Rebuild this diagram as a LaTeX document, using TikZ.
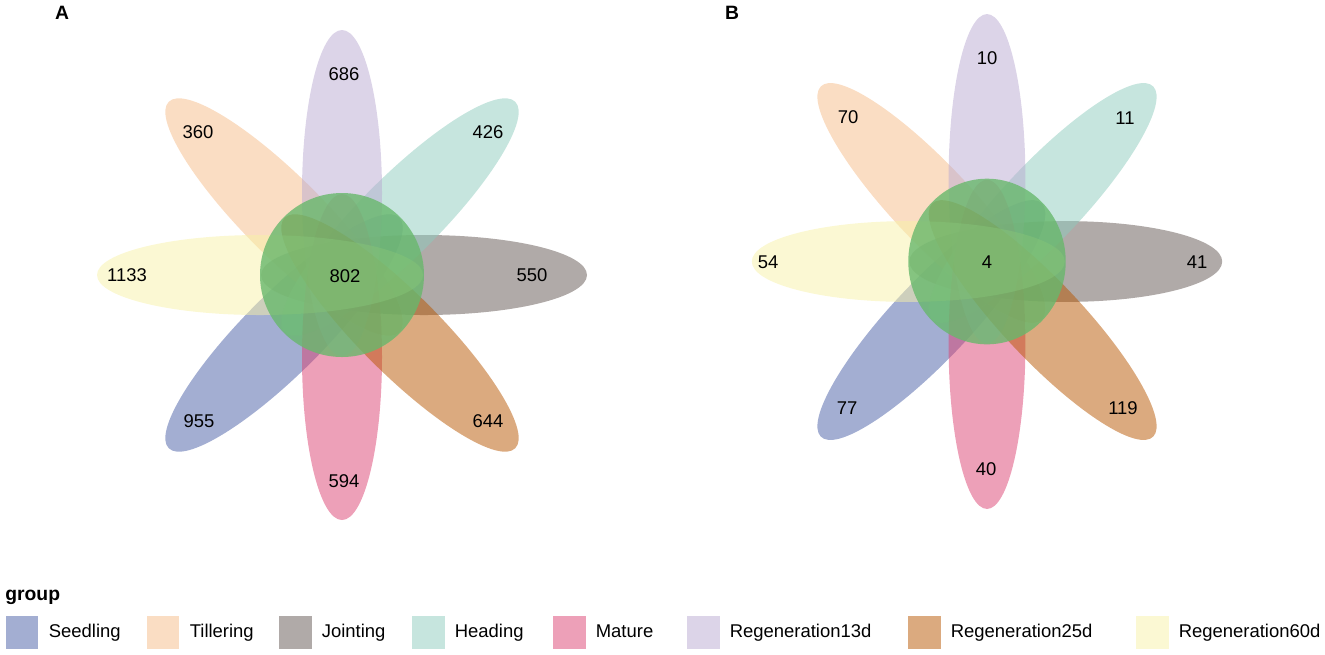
\documentclass[tikz,border=0pt]{standalone}
\usepackage{fontspec}
\setmainfont{Liberation Sans}
\usetikzlibrary{positioning}
% base colours (drawn at half opacity)
\definecolor{cSeed}{RGB}{71,93,165}
\definecolor{cTill}{RGB}{245,187,135}
\definecolor{cJoint}{RGB}{97,85,81}
\definecolor{cHead}{RGB}{141,203,189}
\definecolor{cMat}{RGB}{219,65,113}
\definecolor{cRegA}{RGB}{185,169,209}
\definecolor{cRegB}{RGB}{183,86,0}
\definecolor{cRegC}{RGB}{247,241,167}
\definecolor{cCore}{RGB}{104,184,108}
\tikzset{
  petal/.style={fill opacity=0.5},
  core/.style={fill=cCore, fill opacity=0.8},
  num/.style={font=\fontsize{10.5}{12}\selectfont, inner sep=1pt},
  tag/.style={font=\fontsize{11}{13}\selectfont\bfseries, inner sep=0pt},
  keybox/.style={petal, minimum size=0.66cm, inner sep=0pt, outer sep=0pt},
  keytxt/.style={font=\fontsize{10.5}{12}\selectfont, inner sep=0pt, anchor=west,
    text height=1.6ex, text depth=0.4ex}
}
\begin{document}
\begin{tikzpicture}[x=0.02cm, y=-0.02cm] % 1 unit = 1 pixel, y down
\useasboundingbox (0,0) rectangle (1325,654);
% petal size: offset, long and short half axis, core radius
\def\d{82}
\def\a{163}
\def\b{40}
\def\r{82}
% panel A
\begin{scope}[shift={(342,275)}]
\foreach \ang/\col in {225/cSeed, 135/cTill, 0/cJoint, 45/cHead, 270/cMat, 90/cRegA, 315/cRegB, 180/cRegC}
  \fill[petal, fill=\col, rotate=\ang] (\d,0) ellipse ({\a} and {\b});
\fill[core] (0,0) circle (\r);
\end{scope}
% panel B (a bit narrower, a bit taller)
\begin{scope}[shift={(987,261.5)}, xscale=0.96, yscale=1.01]
\foreach \ang/\col in {225/cSeed, 135/cTill, 0/cJoint, 45/cHead, 270/cMat, 90/cRegA, 315/cRegB, 180/cRegC}
  \fill[petal, fill=\col, rotate=\ang] (\d,0) ellipse ({\a} and {\b});
\fill[core] (0,0) circle (\r);
\end{scope}
% panel tags
\node[tag] (tagA) at (62,13) {A};
\node[tag] (tagB) at (732,13) {B};
% counts, panel A
\node[num] (aJoint) at (532,275) {550};
\node[num] (aHead)  at (488,132) {426};
\node[num] (aRegA)  at (344,74)  {686};
\node[num] (aTill)  at (198,132) {360};
\node[num] (aRegC)  at (127,275) {1133};
\node[num] (aSeed)  at (199,421) {955};
\node[num] (aMat)   at (344,481) {594};
\node[num] (aRegB)  at (488,421) {644};
\node[num] (aCore)  at (345,276) {802};
% counts, panel B
\node[num] (bJoint) at (1197,262) {41};
\node[num] (bHead)  at (1125,118) {11};
\node[num] (bRegA)  at (987,58)   {10};
\node[num] (bTill)  at (848,117)  {70};
\node[num] (bRegC)  at (768,262)  {54};
\node[num] (bSeed)  at (847,408)  {77};
\node[num] (bMat)   at (986,469)  {40};
\node[num] (bRegB)  at (1123,408) {119};
\node[num] (bCore)  at (987,262)  {4};
% legend
\node[tag, anchor=west] (grp) at (5,597) {group};
\node[keybox, fill=cSeed]  (kSeed)  at (22,632)   {};
\node[keybox, fill=cTill]  (kTill)  at (163,632)  {};
\node[keybox, fill=cJoint] (kJoint) at (295,632)  {};
\node[keybox, fill=cHead]  (kHead)  at (428,632)  {};
\node[keybox, fill=cMat]   (kMat)   at (569,632)  {};
\node[keybox, fill=cRegA]  (kRegA)  at (703,632)  {};
\node[keybox, fill=cRegB]  (kRegB)  at (924,632)  {};
\node[keybox, fill=cRegC]  (kRegC)  at (1152,632) {};
\node[keytxt, right=0.2cm of kSeed]  (tSeed)  {Seedling};
\node[keytxt, right=0.2cm of kTill]  (tTill)  {Tillering};
\node[keytxt, right=0.2cm of kJoint] (tJoint) {Jointing};
\node[keytxt, right=0.2cm of kHead]  (tHead)  {Heading};
\node[keytxt, right=0.2cm of kMat]   (tMat)   {Mature};
\node[keytxt, right=0.2cm of kRegA]  (tRegA)  {Regeneration13d};
\node[keytxt, right=0.2cm of kRegB]  (tRegB)  {Regeneration25d};
\node[keytxt, right=0.2cm of kRegC]  (tRegC)  {Regeneration60d};
\end{tikzpicture}
\end{document}
